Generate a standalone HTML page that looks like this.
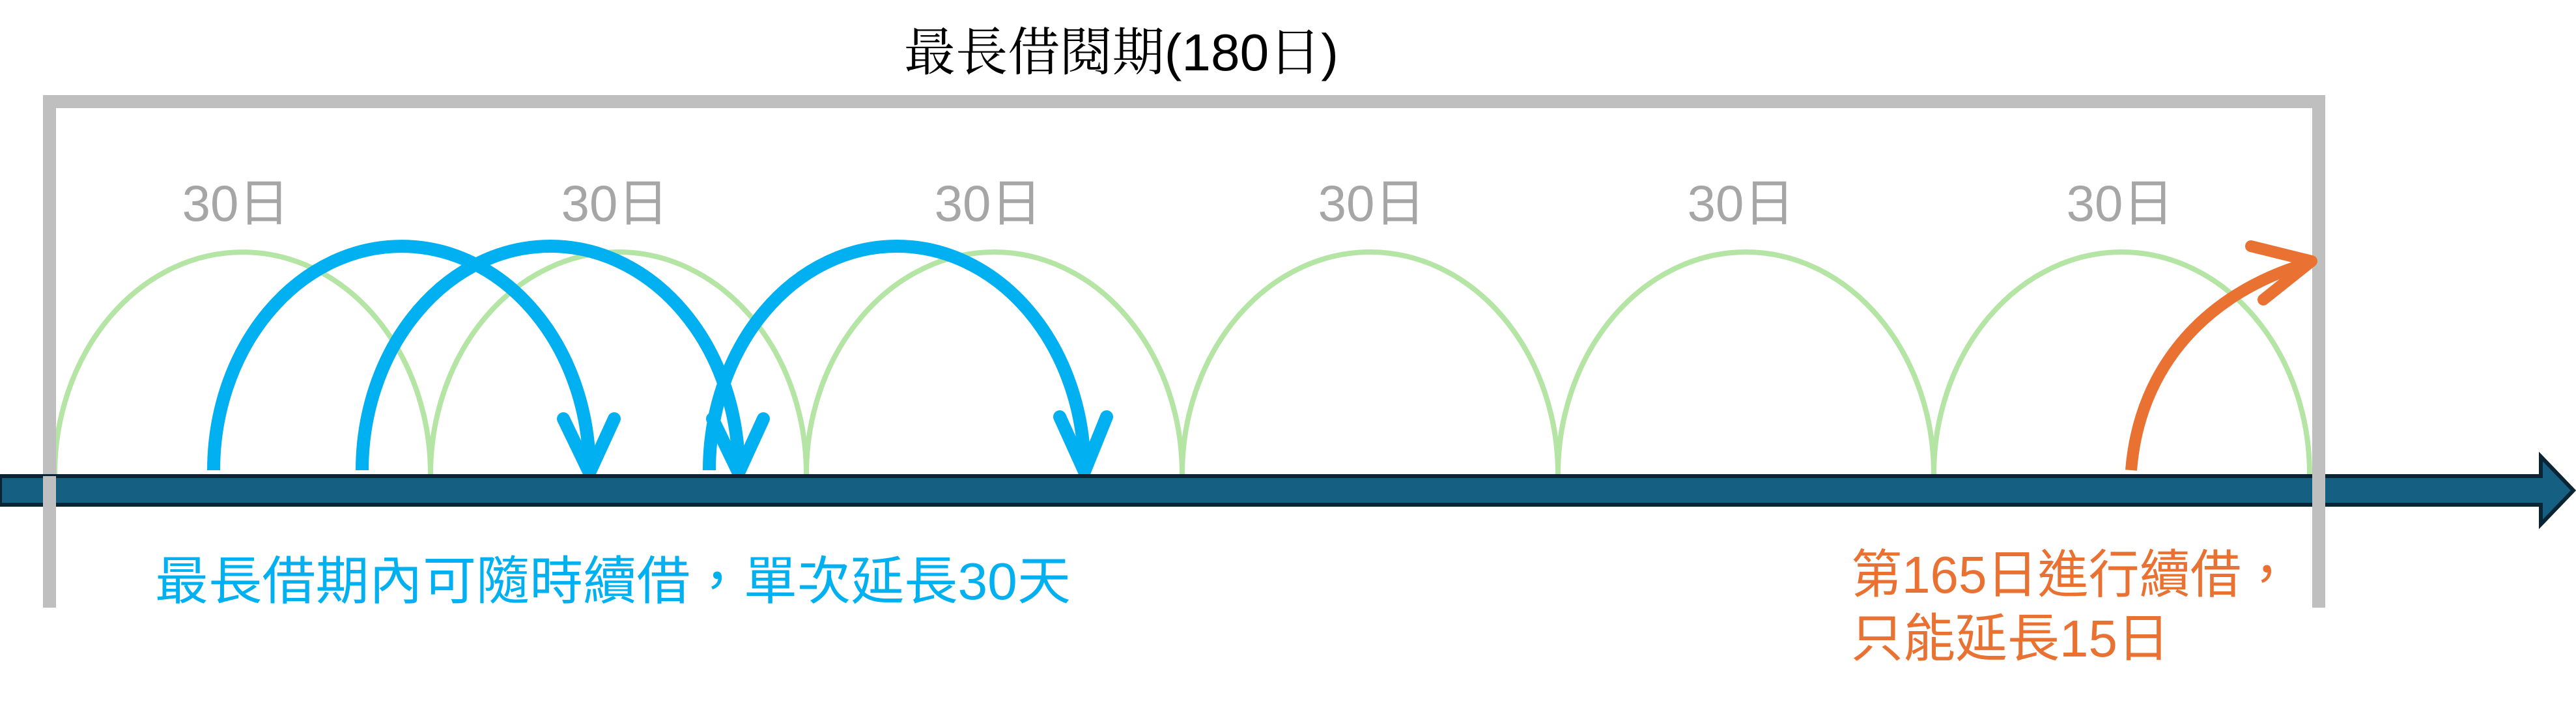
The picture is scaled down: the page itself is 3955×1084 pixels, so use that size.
<!DOCTYPE html>
<html><head><meta charset="utf-8"><style>
html,body{margin:0;padding:0;background:#fff;}
svg{display:block;}
</style></head><body>
<svg width="3955" height="1084" viewBox="0 0 3955 1084" xmlns="http://www.w3.org/2000/svg">
<text x="1387" y="108" font-family="'Liberation Sans','Noto Serif CJK TC','Noto Serif CJK SC',serif" font-size="80" fill="#000" textLength="668" lengthAdjust="spacingAndGlyphs">最長借閱期(180日)</text>
<g fill="none" stroke="#b5e5a5" stroke-width="8">
<path d="M84,728 A288.5,341 0 0 1 661,728"/>
<path d="M661,728 A288.5,341 0 0 1 1238,728"/>
<path d="M1238,728 A288.5,341 0 0 1 1815,728"/>
<path d="M1815,728 A288.5,341 0 0 1 2392,728"/>
<path d="M2392,728 A288.5,341 0 0 1 2969,728"/>
<path d="M2969,728 A288.5,341 0 0 1 3546,728"/>
</g>
<g font-family="'Liberation Sans','Noto Sans CJK TC',sans-serif" font-size="78" fill="#a6a6a6" text-anchor="middle">
<text x="362" y="339">30日</text>
<text x="944" y="339">30日</text>
<text x="1517" y="339">30日</text>
<text x="2106" y="339">30日</text>
<text x="2673" y="339">30日</text>
<text x="3255" y="339">30日</text>
</g>
<path d="M76,933 V156 H3560 V933" fill="none" stroke="#bfbfbf" stroke-width="20"/>
<g fill="none" stroke="#00b0f0" stroke-width="20" stroke-linecap="round" stroke-linejoin="round">
<path d="M328,722 A288.5,344 0 0 1 905,722" stroke-linecap="butt"/>
<path d="M865,643 L905,726 L943,643"/>
<path d="M556,722 A289,344 0 0 1 1134,722" stroke-linecap="butt"/>
<path d="M1094,643 L1134,726 L1172,643"/>
<path d="M1089,722 A288,344 0 0 1 1665,722" stroke-linecap="butt"/>
<path d="M1627,640 L1665,724 L1699,640"/>
</g>
<path d="M0,731 H3901 V701 L3951,753 L3901,805 V775 H0 Z" fill="#156082" stroke="#0b2433" stroke-width="6"/>
<path d="M76,731 V933" stroke="#bfbfbf" stroke-width="20"/>
<path d="M3560,700 V933" stroke="#bfbfbf" stroke-width="20"/>
<g fill="none" stroke="#e97132" stroke-width="18" stroke-linecap="round" stroke-linejoin="round">
<path d="M3272,722 C3285,560 3390,450 3540,405" stroke-linecap="butt"/>
<path d="M3456,378 L3549,401 L3475,460"/>
</g>
<text x="238" y="920" font-family="'Liberation Sans','Noto Sans CJK TC',sans-serif" font-size="80" fill="#00b0f0" textLength="1406" lengthAdjust="spacingAndGlyphs">最長借期內可隨時續借，單次延長30天</text>
<text x="2842" y="910" font-family="'Liberation Sans','Noto Sans CJK TC',sans-serif" font-size="80" fill="#e97132" textLength="677" lengthAdjust="spacingAndGlyphs">第165日進行續借，</text>
<text x="2842" y="1008" font-family="'Liberation Sans','Noto Sans CJK TC',sans-serif" font-size="80" fill="#e97132">只能延長15日</text>
</svg>
</body></html>
